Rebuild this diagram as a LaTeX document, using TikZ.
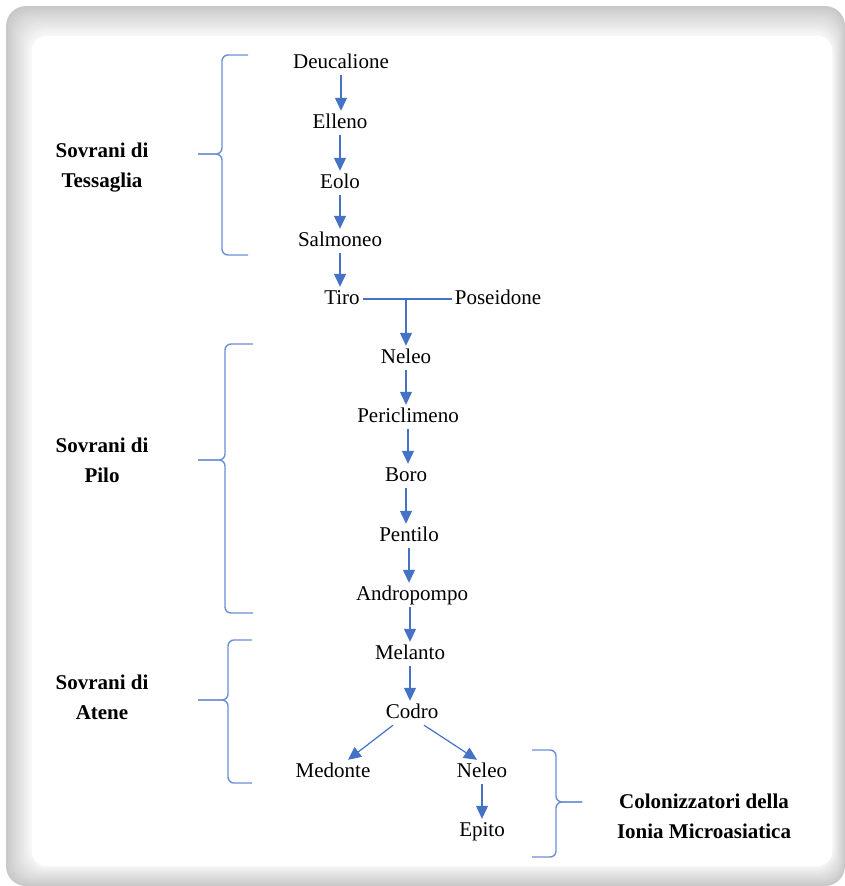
\documentclass[tikz,border=0pt]{standalone}
\usepackage{fontspec}
\setmainfont{Liberation Serif}
\usepackage{xcolor}
\usepackage{tikz}
\usetikzlibrary{arrows.meta}
\usetikzlibrary{calc}

\definecolor{linkblue}{HTML}{4472C4}
\definecolor{braceblue}{HTML}{6C8FD6}

\begin{document}
\begin{tikzpicture}[x=1pt,y=-1pt,
    king/.style={font=\fontsize{21}{25}\selectfont, text height=14pt, text depth=4pt, inner sep=3pt},
    dynasty/.style={font=\fontsize{21}{30}\selectfont\bfseries, align=center, inner sep=0pt},
    link/.style={draw=linkblue, line width=1.2pt, -{Triangle[length=13pt,width=12pt]}},
    bar/.style={draw=linkblue, line width=1.2pt},
    bracket/.style={draw=braceblue, line width=1.4pt, rounded corners=6pt}]
            \useasboundingbox (0,0) rectangle (845,886);

            %%% FRAME %%%
            \fill[white] (0,0) rectangle (845,886);
            \foreach \i in {0,...,12}
                \fill[gray!\the\numexpr 42-3*\i\relax, rounded corners=20pt]
                    ({6+2*\i},{6+2.3*\i}) rectangle ({845-1*\i},{886-1.6*\i});
            \fill[white, rounded corners=14pt] (32,36) rectangle (832,866);

            %%% NAMES %%%
            \node[king] (deucalione) at (341,63) {Deucalione};
            \node[king] (elleno) at (340,123) {Elleno};
            \node[king] (eolo) at (340,183) {Eolo};
            \node[king] (salmoneo) at (340,241) {Salmoneo};
            \node[king] (tiro) at (342,299) {Tiro};
            \node[king] (poseidone) at (498,299) {Poseidone};
            \node[king] (neleo) at (406,358) {Neleo};
            \node[king] (periclimeno) at (408,417) {Periclimeno};
            \node[king] (boro) at (406,476) {Boro};
            \node[king] (pentilo) at (409,536) {Pentilo};
            \node[king] (andropompo) at (412,595) {Andropompo};
            \node[king] (melanto) at (410,654) {Melanto};
            \node[king] (codro) at (412,713) {Codro};
            \node[king] (medonte) at (333,772) {Medonte};
            \node[king] (neleob) at (482,772) {Neleo};
            \node[king] (epito) at (482,831) {Epito};

            %%% GROUPS %%%
            \node[dynasty] (tessaglia) at (102,168) {Sovrani di\\Tessaglia};
            \node[dynasty] (pilo) at (102,460) {Sovrani di\\Pilo};
            \node[dynasty] (atene) at (102,697) {Sovrani di\\Atene};
            \node[dynasty] (ionia) at (704,816) {Colonizzatori della\\Ionia Microasiatica};

            %%% ARROWS %%%
            \draw[link] (deucalione.south) -- (deucalione.south |- elleno.north);
            \draw[link] (elleno.south) -- (elleno.south |- eolo.north);
            \draw[link] (eolo.south) -- (eolo.south |- salmoneo.north);
            \draw[link] (salmoneo.south) -- (salmoneo.south |- tiro.north);
            \draw[bar] (tiro.east) -- (poseidone.west);
            \coordinate (tirojoin) at (neleo.north |- tiro.east);
            \draw[link] (tirojoin) -- (neleo.north);
            \draw[link] (neleo.south) -- (neleo.south |- periclimeno.north);
            \draw[link] (periclimeno.south) -- (periclimeno.south |- boro.north);
            \draw[link] (boro.south) -- (boro.south |- pentilo.north);
            \draw[link] (pentilo.south) -- (pentilo.south |- andropompo.north);
            \draw[link] ([xshift=-2pt]andropompo.south) -- ([xshift=-2pt]andropompo.south |- melanto.north);
            \draw[link] (melanto.south) -- (melanto.south |- codro.north);
            \draw[link] ([xshift=-19pt]codro.south) -- ([xshift=15pt]medonte.north);
            \draw[link] ([xshift=12pt]codro.south) -- ([xshift=-5pt]neleob.north);
            \draw[link] (neleob.south) -- (epito.north);

            %%% BRACES %%%
            \draw[bracket] (248,55) -- (222,55) -- (222,154) -- (198,154);
            \draw[bracket] (198,154) -- (222,154) -- (222,255) -- (248,255);
            \draw[bracket] (253,344) -- (225,344) -- (225,460) -- (198,460);
            \draw[bracket] (198,460) -- (225,460) -- (225,613) -- (253,613);
            \draw[bracket] (252,640) -- (228,640) -- (228,700) -- (198,700);
            \draw[bracket] (198,700) -- (228,700) -- (228,783) -- (252,783);
            \draw[bracket] (532,750) -- (556,750) -- (556,802) -- (582,802);
            \draw[bracket] (582,802) -- (556,802) -- (556,857) -- (532,857);
\end{tikzpicture}
\end{document}
